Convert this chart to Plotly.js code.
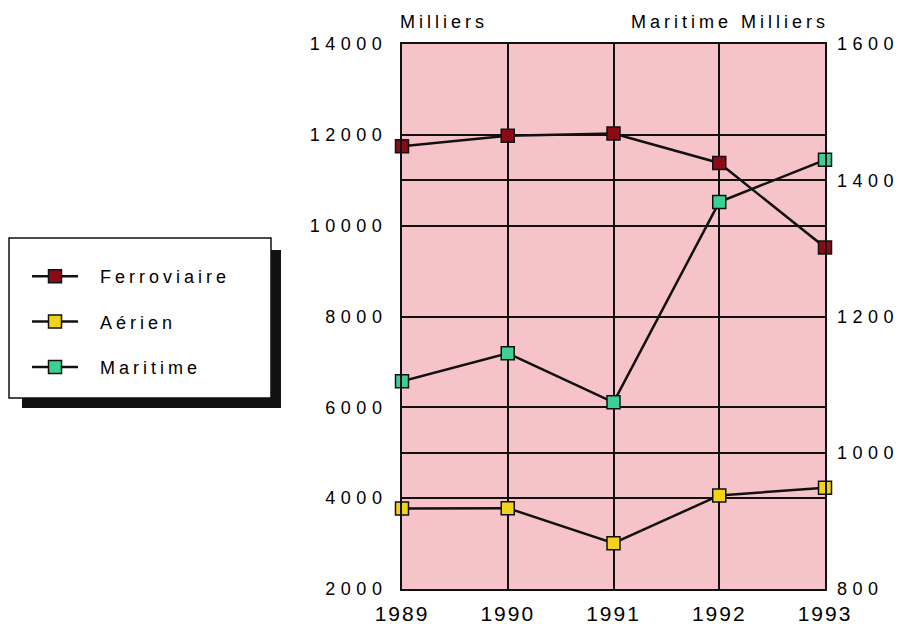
<!DOCTYPE html>
<html>
<head>
<meta charset="utf-8">
<script src="https://cdn.plot.ly/plotly-3.0.1.min.js"></script>
<style>
  html, body { margin: 0; padding: 0; background: #fff; }
  #chart { width: 899px; height: 624px; }
  svg text { letter-spacing: 4px; }
  .ytick text, .y2tick text { letter-spacing: 5.5px; }
  .xtick text { letter-spacing: 2px; }
  .legend .scrollbox { clip-path: none !important; }
  .legend .legendtext { transform: translate(17px, 0); }
</style>
</head>
<body>
<div id="chart"></div>
<script>
const years = [1989, 1990, 1991, 1992, 1993];
const ferroviaire = [11750, 11980, 12030, 11380, 9520];
const aerien = [3770, 3780, 3010, 4060, 4230];
const maritime = [1105, 1146, 1074, 1368, 1430];

const seriesNames = ['Ferroviaire', 'Aérien', 'Maritime'];
const seriesColors = ['#8a0a16', '#f3d21c', '#3ccf96'];
const leftTicks = [2000, 4000, 6000, 8000, 10000, 12000, 14000];
const rightTicks = [800, 1000, 1200, 1400, 1600];

const FONT = 'Liberation Sans, Arial, sans-serif';

function trace(name, y, color, axis) {
  return {
    x: years, y: y, name: name, type: 'scatter', mode: 'lines+markers',
    yaxis: axis, legendgroup: name, cliponaxis: false,
    line: { color: '#111', width: 2.5 },
    marker: { symbol: 'square', size: 13, color: color, line: { color: '#111', width: 1.5 } }
  };
}

const data = [
  trace(seriesNames[0], ferroviaire, seriesColors[0], 'y'),
  trace(seriesNames[1], aerien, seriesColors[1], 'y'),
  trace(seriesNames[2], maritime, seriesColors[2], 'y2')
];

const layout = {
  width: 899, height: 624,
  margin: { l: 402, r: 74, t: 44, b: 35 },
  paper_bgcolor: '#ffffff',
  plot_bgcolor: '#f5c3c8',
  font: { family: FONT, size: 18, color: '#000' },
  showlegend: true,
  legend: {
    x: (27 - 402) / 423, y: (589 - 258) / 545, xanchor: 'left', yanchor: 'top',
    bgcolor: 'rgba(0,0,0,0)', borderwidth: 0,
    font: { family: FONT, size: 18, color: '#000' },
    traceorder: 'grouped', tracegroupgap: 19, itemwidth: 46
  },
  xaxis: {
    range: [1989, 1993], tickvals: years, ticktext: years.map(String),
    showgrid: true, gridcolor: '#111', gridwidth: 2,
    showline: true, linecolor: '#111', linewidth: 2, mirror: true,
    zeroline: false, ticks: '', ticklabelstandoff: 5,
    tickfont: { family: FONT, size: 21, color: '#000' }
  },
  yaxis: {
    range: [2000, 14000], tickvals: leftTicks, ticktext: leftTicks.map(String),
    showgrid: true, gridcolor: '#111', gridwidth: 2,
    showline: true, linecolor: '#111', linewidth: 2, mirror: true,
    zeroline: false, ticks: '', ticklabelstandoff: 9,
    tickfont: { family: FONT, size: 18, color: '#000' }
  },
  yaxis2: {
    range: [800, 1600], tickvals: rightTicks, ticktext: rightTicks.map(String),
    overlaying: 'y', side: 'right',
    showgrid: true, gridcolor: '#111', gridwidth: 2,
    showline: false, zeroline: false, ticks: '', ticklabelstandoff: 11,
    tickfont: { family: FONT, size: 18, color: '#000' }
  },
  annotations: [
    { text: 'Milliers', xref: 'paper', yref: 'paper', x: (398 - 402) / 423, y: (589 - 22) / 545,
      xanchor: 'left', yanchor: 'middle', showarrow: false,
      font: { family: FONT, size: 18, color: '#000' } },
    { text: 'Maritime Milliers', xref: 'paper', yref: 'paper', x: (831 - 402) / 423, y: (589 - 22) / 545,
      xanchor: 'right', yanchor: 'middle', showarrow: false,
      font: { family: FONT, size: 18, color: '#000' } }
  ],
  shapes: [
    { type: 'rect', xref: 'paper', yref: 'paper',
      x0: (22 - 402) / 423, x1: (281 - 402) / 423, y0: (589 - 408) / 545, y1: (589 - 250) / 545,
      fillcolor: '#111', line: { width: 0 }, layer: 'above' },
    { type: 'rect', xref: 'paper', yref: 'paper',
      x0: (9 - 402) / 423, x1: (271 - 402) / 423, y0: (589 - 398) / 545, y1: (589 - 238) / 545,
      fillcolor: '#ffffff', line: { color: '#111', width: 1.5 }, layer: 'above' }
  ]
};

Plotly.newPlot('chart', data, layout, { staticPlot: true });
</script>
</body>
</html>
